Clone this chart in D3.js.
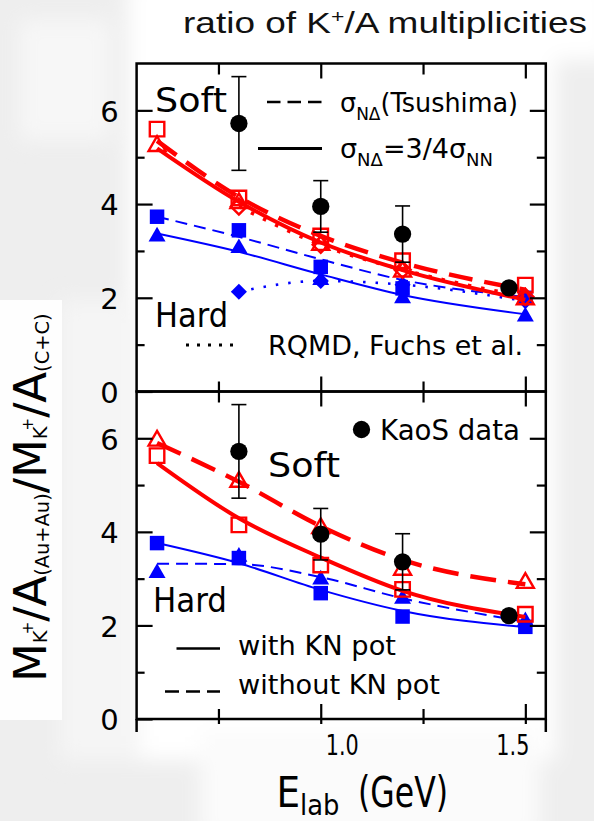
<!DOCTYPE html>
<html>
<head>
<meta charset="utf-8">
<script src="https://cdn.jsdelivr.net/npm/d3@7"></script>
<style>
  html, body { margin: 0; padding: 0; background: #ffffff; }
  svg { display: block; }
</style>
</head>
<body>
<svg id="chart" width="594" height="821"></svg>
<script>
// ---- beam energies (GeV) ----
const energies = [0.6, 0.8, 1.0, 1.2, 1.5];
const rqmdEnergies = [0.8, 1.0, 1.2, 1.5];

// ---- KaoS measurement (shown in both panels) ----
const kaosEnergies = [0.8, 1.0, 1.2, 1.46];
const kaosRatio = [5.72, 3.95, 3.36, 2.21];
const kaosError = [1.0, 0.55, 0.6, 0.0];

// ---- upper panel: N-Delta cross section ----
const softTsushimaPts = [5.60, 4.13, 3.32, 2.79, 2.27];
const softTsushimaFit = [5.35, 4.15, 3.32, 2.75, 2.17];
const softSigmaPts    = [5.27, 4.05, 3.16, 2.59, 2.00];
const softSigmaFit    = [5.19, 4.05, 3.18, 2.59, 1.96];
const softRqmd        = [3.95, 3.13, 2.60, 2.02];
const hardTsushimaPts = [3.73, 3.44, 2.66, 2.20, 2.00];
const hardTsushimaFit = [3.73, 3.30, 2.82, 2.38, 2.02];
const hardSigmaPts    = [3.34, 3.09, 2.41, 2.02, 1.63];
const hardSigmaFit    = [3.37, 2.98, 2.50, 2.06, 1.65];
const hardRqmd        = [2.13, 2.36, 2.28, 1.93];

// ---- lower panel: with / without KN potential ----
const softWithPts     = [5.63, 4.15, 3.29, 2.77, 2.24];
const softWithFit     = [5.47, 4.29, 3.45, 2.74, 2.18];
const softWithoutPts  = [5.98, 5.10, 4.11, 3.22, 2.94];
const softWithoutFit  = [5.90, 5.07, 4.12, 3.40, 2.88];
const hardWithPts     = [3.76, 3.44, 2.69, 2.19, 1.97];
const hardWithFit     = [3.76, 3.33, 2.76, 2.31, 1.96];
const hardWithoutPts  = [3.15, 3.50, 3.01, 2.60, 2.12];
const hardWithoutFit  = [3.32, 3.31, 3.03, 2.58, 2.08];

// ---- axes ----
const xTickMajor = [1.0, 1.5];
const xTickMinor = [0.75, 1.25];
const xTickLabels = ["1.0", "1.5"];
const yTickMajor = [0, 2, 4, 6];
const yTickMinor = [1, 3, 5];
const yTickLabels = ["0", "2", "4", "6"];

const RED = "#ff0000", BLUE = "#0000ff", BLACK = "#000000";
const FONT = "DejaVu Sans";

const svg = d3.select("#chart");

// ---- soft grey backdrop ----
const defs = svg.append("defs");
const blur = defs.append("filter").attr("id", "soft").attr("x", "-50%").attr("y", "-50%").attr("width", "200%").attr("height", "200%");
blur.append("feGaussianBlur").attr("stdDeviation", 10);
svg.append("rect").attr("width", 594).attr("height", 821).attr("fill", "#eeeeee");
const bg = svg.append("g").attr("filter", "url(#soft)");
bg.append("rect").attr("x", 128).attr("y", -20).attr("width", 428).attr("height", 780).attr("fill", "#ffffff");
bg.append("rect").attr("x", 140).attr("y", -20).attr("width", 470).attr("height", 80).attr("fill", "#ffffff");
bg.append("rect").attr("x", 200).attr("y", 730).attr("width", 340).attr("height", 110).attr("fill", "#fbfbfb");
bg.append("rect").attr("x", 60).attr("y", 300).attr("width", 80).attr("height", 460).attr("fill", "#f5f5f5");
bg.append("rect").attr("x", 20).attr("y", 20).attr("width", 90).attr("height", 120).attr("fill", "#f7f7f7");
svg.append("rect").attr("x", 0).attr("y", 300).attr("width", 62).attr("height", 420).attr("fill", "#fefefe");

// ---- scales ----
const x = d3.scaleLinear().domain([0.55, 1.55]).range([136.6, 545.8]);
const yTop = d3.scaleLinear().domain([0, 7]).range([391.5, 63.5]);
const yBot = d3.scaleLinear().domain([0, 7]).range([719, 391.5]);

function fitText(sel, w) {
  sel.attr("textLength", w).attr("lengthAdjust", "spacingAndGlyphs");
  return sel;
}

// ---- white plotting area of one panel ----
function drawFrame(y) {
  const [x0, x1] = x.range();
  const [yb, yt] = y.range();
  svg.append("rect").attr("x", x0).attr("y", yt).attr("width", x1 - x0).attr("height", yb - yt)
    .attr("fill", "#ffffff").attr("stroke", "none");
}
// ---- ticks, labels and box of one panel ----
function drawAxes(y, isBottom) {
  const g = svg.append("g");
  const [x0, x1] = x.range();
  const [yb, yt] = y.range();
  const style = a => a.selectAll("line").attr("stroke", BLACK).attr("stroke-width", 2.2);
  const noDomain = a => a.select(".domain").remove();

  // left
  const left = g.append("g").attr("transform", `translate(${x0},0)`)
    .call(d3.axisLeft(y).tickValues(yTickMajor).tickSize(-16).tickPadding(18)
      .tickFormat((d, i) => yTickLabels[i]));
  noDomain(left); style(left);
  left.selectAll("text").attr("font-family", FONT).attr("font-size", 29).attr("fill", BLACK).attr("dy", "0.37em");
  const leftMinor = g.append("g").attr("transform", `translate(${x0},0)`)
    .call(d3.axisLeft(y).tickValues(yTickMinor).tickSize(-8).tickFormat(""));
  noDomain(leftMinor); style(leftMinor);
  // right
  const right = g.append("g").attr("transform", `translate(${x1},0)`)
    .call(d3.axisRight(y).tickValues(yTickMajor.filter(v => v > 0)).tickSize(-16).tickFormat(""));
  noDomain(right); style(right);
  const rightMinor = g.append("g").attr("transform", `translate(${x1},0)`)
    .call(d3.axisRight(y).tickValues(yTickMinor).tickSize(-9).tickFormat(""));
  noDomain(rightMinor); style(rightMinor);
  // top edge, ticks pointing down into the panel
  const top = g.append("g").attr("transform", `translate(0,${yt})`)
    .call(d3.axisTop(x).tickValues(xTickMajor).tickSize(-15).tickFormat(""));
  noDomain(top); style(top);
  const topMinor = g.append("g").attr("transform", `translate(0,${yt})`)
    .call(d3.axisTop(x).tickValues(xTickMinor).tickSize(-11).tickFormat(""));
  noDomain(topMinor); style(topMinor);
  // bottom edge, ticks pointing up into the panel
  const bot = g.append("g").attr("transform", `translate(0,${yb})`)
    .call(d3.axisBottom(x).tickValues(xTickMajor).tickSize(-15).tickFormat(""));
  noDomain(bot); style(bot);
  const botMinor = g.append("g").attr("transform", `translate(0,${yb})`)
    .call(d3.axisBottom(x).tickValues(xTickMinor).tickSize(-10).tickFormat(""));
  noDomain(botMinor); style(botMinor);

  if (isBottom) {
    // short outward stubs and energy labels
    const stub = g.append("g").attr("transform", `translate(0,${yb})`)
      .call(d3.axisBottom(x).tickValues(xTickMajor.concat(xTickMinor)).tickSize(5).tickPadding(14)
        .tickFormat(d => { const i = xTickMajor.indexOf(d); return i >= 0 ? xTickLabels[i] : ""; }));
    noDomain(stub); style(stub);
    const shift = [21, -13];
    stub.selectAll("text").each(function (d) {
      const i = xTickMajor.indexOf(d);
      if (i < 0) return;
      d3.select(this).attr("dx", shift[i]).attr("dy", 0).attr("y", 36)
        .attr("font-family", FONT).attr("font-size", 28).attr("fill", BLACK)
        .attr("textLength", 33).attr("lengthAdjust", "spacingAndGlyphs");
    });
    g.append("line").attr("x1", x0).attr("x2", x0).attr("y1", yb).attr("y2", yb + 13)
      .attr("stroke", BLACK).attr("stroke-width", 2.5);
    g.append("line").attr("x1", x1).attr("x2", x1).attr("y1", yb).attr("y2", yb + 13)
      .attr("stroke", BLACK).attr("stroke-width", 2.5);
  }
  g.append("rect").attr("x", x0).attr("y", yt).attr("width", x1 - x0).attr("height", yb - yt)
    .attr("fill", "none").attr("stroke", BLACK).attr("stroke-width", 2.5);
}

drawFrame(yTop); drawFrame(yBot);

// ---- marks ----
function curve(g, y, xs, ys, color, width, dash) {
  const line = d3.line().x(d => x(d[0])).y(d => y(d[1])).curve(d3.curveMonotoneX);
  g.append("path").attr("d", line(d3.zip(xs, ys))).attr("fill", "none")
    .attr("stroke", color).attr("stroke-width", width)
    .attr("stroke-dasharray", dash || null);
}
const sym = {
  square: d3.symbol().type(d3.symbolSquare).size(210),
  triangle: d3.symbol().type(d3.symbolTriangle).size(125),
  diamond: d3.symbol().type(d3.symbolSquare).size(130),
  circle: d3.symbol().type(d3.symbolCircle).size(235)
};
function markers(g, y, xs, ys, kind, color, open) {
  g.selectAll(null).data(d3.zip(xs, ys)).join("path")
    .attr("d", sym[kind]())
    .attr("transform", d => `translate(${x(d[0])},${y(d[1]) + (kind === "triangle" ? 1.5 : 0)})` + (kind === "diamond" ? " rotate(45)" : ""))
    .attr("fill", open ? "none" : color)
    .attr("stroke", open ? color : "none")
    .attr("stroke-width", open ? 2.4 : 0);
}
function kaos(g, y) {
  const pts = d3.zip(kaosEnergies, kaosRatio, kaosError).filter(d => d[2] > 0);
  const bars = g.append("g").attr("stroke", BLACK).attr("stroke-width", 1.6);
  bars.selectAll(null).data(pts).join("line")
    .attr("x1", d => x(d[0])).attr("x2", d => x(d[0]))
    .attr("y1", d => y(d[1] - d[2])).attr("y2", d => y(d[1] + d[2]));
  [-1, 1].forEach(s => {
    bars.selectAll(null).data(pts).join("line")
      .attr("x1", d => x(d[0]) - 7.5).attr("x2", d => x(d[0]) + 7.5)
      .attr("y1", d => y(d[1] + s * d[2])).attr("y2", d => y(d[1] + s * d[2]));
  });
  markers(g, y, kaosEnergies, kaosRatio, "circle", BLACK, false);
}

// upper panel
const gt = svg.append("g");
curve(gt, yTop, rqmdEnergies, hardRqmd, BLUE, 2.6, "2.5,10");
curve(gt, yTop, energies, hardTsushimaFit, BLUE, 2, "12,7");
curve(gt, yTop, energies, hardSigmaFit, BLUE, 2);
markers(gt, yTop, rqmdEnergies, hardRqmd, "diamond", BLUE, false);
markers(gt, yTop, energies, hardTsushimaPts, "square", BLUE, false);
markers(gt, yTop, energies, hardSigmaPts, "triangle", BLUE, false);
curve(gt, yTop, rqmdEnergies, softRqmd, RED, 3.6, "3.5,10");
curve(gt, yTop, energies, softTsushimaFit, RED, 4.5, "24,12");
curve(gt, yTop, energies, softSigmaFit, RED, 4);
markers(gt, yTop, rqmdEnergies, softRqmd, "diamond", RED, true);
markers(gt, yTop, energies, softSigmaPts, "triangle", RED, true);
markers(gt, yTop, energies, softTsushimaPts, "square", RED, true);
kaos(gt, yTop);

// lower panel
const gb = svg.append("g");
curve(gb, yBot, energies, hardWithoutFit, BLUE, 2, "12,7");
curve(gb, yBot, energies, hardWithFit, BLUE, 2);
markers(gb, yBot, energies, hardWithoutPts, "triangle", BLUE, false);
markers(gb, yBot, energies, hardWithPts, "square", BLUE, false);
curve(gb, yBot, energies, softWithoutFit, RED, 4.5, "26,12");
curve(gb, yBot, energies, softWithFit, RED, 4);
markers(gb, yBot, energies, softWithoutPts, "triangle", RED, true);
markers(gb, yBot, energies, softWithPts, "square", RED, true);
kaos(gb, yBot);

drawAxes(yTop, false);
drawAxes(yBot, true);

// ---- in-panel text and legends ----
function label(txt, x0, y0, size, w) {
  const t = svg.append("text").attr("x", x0).attr("y", y0).attr("font-family", FONT)
    .attr("font-size", size).attr("fill", BLACK).text(txt);
  if (w) fitText(t, w);
  return t;
}
function sigmaLabel(parts, x0, y0, w) {
  const t = svg.append("text").attr("x", x0).attr("y", y0).attr("font-family", FONT)
    .attr("font-size", 27).attr("fill", BLACK);
  let shifted = 0;
  parts.forEach(([s, sub]) => {
    const dy = sub ? 8 - shifted : -shifted;
    t.append("tspan").attr("dy", dy).attr("font-size", sub ? 18 : 27).text(s);
    shifted = sub ? 8 : 0;
  });
  fitText(t, w);
}

label("Soft", 155, 112, 34, 72);
label("Hard", 155, 327, 34, 73);
svg.append("line").attr("x1", 267).attr("x2", 322).attr("y1", 102).attr("y2", 102)
  .attr("stroke", BLACK).attr("stroke-width", 2.6).attr("stroke-dasharray", "13.5,7");
sigmaLabel([["σ", false], ["NΔ", true], ["(Tsushima)", false]], 340, 112, 178);
svg.append("line").attr("x1", 258).attr("x2", 322).attr("y1", 148.5).attr("y2", 148.5)
  .attr("stroke", BLACK).attr("stroke-width", 2.8);
sigmaLabel([["σ", false], ["NΔ", true], ["=3/4σ", false], ["NN", true]], 340, 158, 153);
svg.append("line").attr("x1", 186).attr("x2", 233).attr("y1", 345).attr("y2", 345)
  .attr("stroke", BLACK).attr("stroke-width", 3).attr("stroke-dasharray", "3,8");
label("RQMD, Fuchs et al.", 268, 355, 27, 255);

svg.append("path").attr("d", sym.circle()).attr("transform", "translate(361.5,429.5)").attr("fill", BLACK);
label("KaoS data", 380, 439.5, 28, 140);
label("Soft", 268, 477, 34, 72);
label("Hard", 153, 612, 34, 74);
svg.append("line").attr("x1", 176.5).attr("x2", 220).attr("y1", 648.5).attr("y2", 648.5)
  .attr("stroke", BLACK).attr("stroke-width", 2.6);
label("with KN pot", 238, 655, 27, 158);
svg.append("line").attr("x1", 165).attr("x2", 220).attr("y1", 691.5).attr("y2", 691.5)
  .attr("stroke", BLACK).attr("stroke-width", 2.6).attr("stroke-dasharray", "14,7");
label("without KN pot", 238, 694, 27, 202);

// ---- axis titles ----
const xt = svg.append("text").attr("x", 276.5).attr("y", 806.5).attr("font-family", FONT)
  .attr("font-size", 42).attr("fill", BLACK);
xt.append("tspan").text("E");
xt.append("tspan").attr("font-size", 29).attr("dy", 8).text("lab");
fitText(xt, 63);
label("(GeV)", 358, 806.5, 42, 90);

const yl = svg.append("g").attr("transform", "translate(46,682) rotate(-90)");
const ylt = yl.append("text").attr("font-family", FONT).attr("font-size", 44).attr("fill", BLACK);
const ylParts = [
  ["M", 44, 0, 0], ["K", 19, 1, 0], ["+", 15, -14, -4], ["/", 44, 13, 0], ["A", 44, 0, 0],
  ["(Au+Au)", 19, 3, 0], ["/", 44, -3, 0], ["M", 44, 0, 0], ["K", 19, 1, 0], ["+", 15, -14, -4],
  ["/", 44, 13, 0], ["A", 44, 0, 0], ["(C+C)", 19, 3, 0]
];
ylParts.forEach(([s, size, dy, dx]) => {
  ylt.append("tspan").attr("font-size", size).attr("dy", dy).attr("dx", dx).text(s);
});
const ylLen = ylt.node().getComputedTextLength();
ylt.attr("transform", `scale(${377 / ylLen},1)`);

// ---- title ----
const title = svg.append("text").attr("x", 183).attr("y", 33)
  .attr("font-family", "Liberation Sans").attr("font-size", 29).attr("fill", "#111");
title.append("tspan").text("ratio of K");
title.append("tspan").attr("font-size", 18).attr("dy", -10).text("+");
title.append("tspan").attr("dy", 10).text("/A multiplicities");
fitText(title, 404);
</script>
</body>
</html>
